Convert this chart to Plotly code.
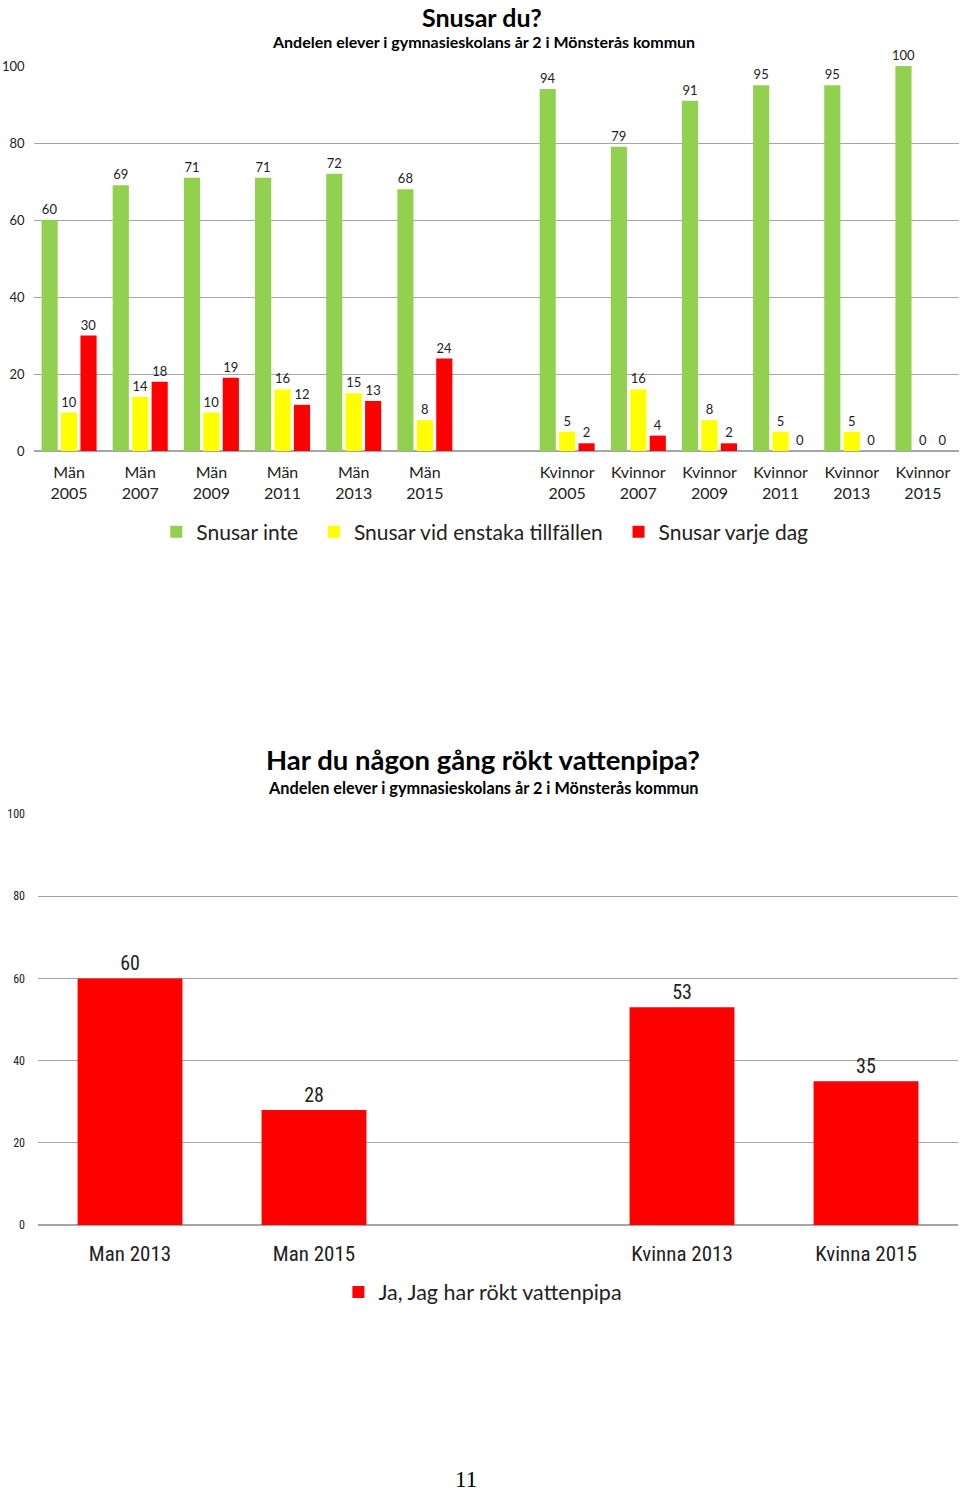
import plotly.graph_objects as go

# Top chart: Snusar du?
snus_cats = ["Män<br>2005", "Män<br>2007", "Män<br>2009", "Män<br>2011", "Män<br>2013", "Män<br>2015", " ",
             "Kvinnor<br>2005", "Kvinnor<br>2007", "Kvinnor<br>2009", "Kvinnor<br>2011", "Kvinnor<br>2013", "Kvinnor<br>2015"]
snusar_inte = [60, 69, 71, 71, 72, 68, None, 94, 79, 91, 95, 95, 100]
snusar_enstaka = [10, 14, 10, 16, 15, 8, None, 5, 16, 8, 5, 5, 0]
snusar_varje_dag = [30, 18, 19, 12, 13, 24, None, 2, 4, 2, 0, 0, 0]

# Bottom chart: vattenpipa
vp_cats = ["Man 2013", "Man 2015", " ", "Kvinna 2013", "Kvinna 2015"]
vp_values = [60, 28, None, 53, 35]

GREEN = "#92D050"
YELLOW = "#FFFF00"
RED = "#FF0000"
GRID = "#A6A6A6"
FONT = "Lato, Open Sans, sans-serif"
NARROW = "Liberation Sans Narrow, Roboto Condensed, Lato, sans-serif"
NB = "\u00a0"

H = 1491.0


def py(p):
    return 1 - p / H


fig = go.Figure()

for name, vals, col in [("Snusar inte" + NB * 2, snusar_inte, GREEN),
                        ("Snusar vid enstaka tillfällen" + NB * 2, snusar_enstaka, YELLOW),
                        ("Snusar varje dag", snusar_varje_dag, RED)]:
    fig.add_trace(go.Bar(
        x=snus_cats, y=vals, name=name, marker=dict(color=col, line=dict(width=0)),
        text=[("" if v is None else str(v)) for v in vals],
        textposition="outside", constraintext="none", cliponaxis=False,
        textfont=dict(size=13, color="#222222", family=FONT),
        xaxis="x", yaxis="y", legend="legend",
    ))

fig.add_trace(go.Bar(
    x=vp_cats, y=vp_values, name="Ja, Jag har rökt vattenpipa",
    marker=dict(color=RED, line=dict(width=0)), width=0.57,
    text=[("" if v is None else str(v)) for v in vp_values],
    textposition="outside", constraintext="none", cliponaxis=False,
    textfont=dict(size=20, color="#222222", family=NARROW),
    xaxis="x2", yaxis="y2", legend="legend2",
))

fig.update_layout(
    width=960, height=1491,
    margin=dict(l=0, r=0, t=0, b=0, autoexpand=False),
    paper_bgcolor="white", plot_bgcolor="white",
    barmode="group", bargap=0.18, bargroupgap=0.17,
    font=dict(family=FONT, color="#222222"),
    xaxis=dict(domain=[33.5 / 960, 958.5 / 960], anchor="y", type="category",
               categoryorder="array", categoryarray=snus_cats,
               tickfont=dict(size=16, color="#222222"), showgrid=False, ticks="",
               ticklabelstandoff=10),
    yaxis=dict(domain=[py(451), py(66)], anchor="x", range=[0, 100], dtick=20,
               showgrid=True, gridcolor=GRID, gridwidth=1, zeroline=True, zerolinecolor=GRID,
               tickfont=dict(size=13, color="#222222"), ticklabelstandoff=8),
    xaxis2=dict(domain=[38 / 960, 958 / 960], anchor="y2", type="category",
                categoryorder="array", categoryarray=vp_cats,
                tickfont=dict(size=21, color="#222222", family=NARROW), showgrid=False, ticks="",
                ticklabelstandoff=14),
    yaxis2=dict(domain=[py(1225), py(814)], anchor="x2", range=[0, 100], dtick=20,
                showgrid=True, gridcolor=GRID, gridwidth=1, zeroline=True, zerolinecolor=GRID,
                tickfont=dict(size=12, color="#222222", family=NARROW), ticklabelstandoff=12),
    legend=dict(orientation="h", x=0.505, xanchor="center", y=py(532), yanchor="middle",
                font=dict(size=21, color="#222222")),
    legend2=dict(orientation="h", x=0.503, xanchor="center", y=py(1292), yanchor="middle",
                 font=dict(size=21.5, color="#222222")),
    showlegend=True,
)

annotations = [
    dict(text="<b>Snusar du?</b>", x=482 / 960, y=1, yanchor="top", font=dict(size=25, color="#000000")),
    dict(text="<b>Andelen elever i gymnasieskolans år 2 i Mönsterås kommun</b>", x=483 / 960, y=py(41),
         font=dict(size=16, color="#000000")),
    dict(text="<b>Har du någon gång rökt vattenpipa?</b>", x=483 / 960, y=py(759),
         font=dict(size=27.5, color="#000000")),
    dict(text="<b>Andelen elever i gymnasieskolans år 2 i Mönsterås kommun</b>", x=483 / 960, y=py(787),
         font=dict(size=16.3, color="#000000")),
    dict(text="11", x=466 / 960, y=py(1479), font=dict(size=23, color="#000000", family="Liberation Serif, serif")),
]
for a in annotations:
    a.setdefault("yanchor", "middle")
    a.update(xref="paper", yref="paper", showarrow=False, xanchor="center")
fig.update_layout(annotations=annotations)

fig.write_html("out.html", config={"displayModeBar": False},
               post_script="document.body.style.margin='0';document.body.style.overflow='hidden';")
